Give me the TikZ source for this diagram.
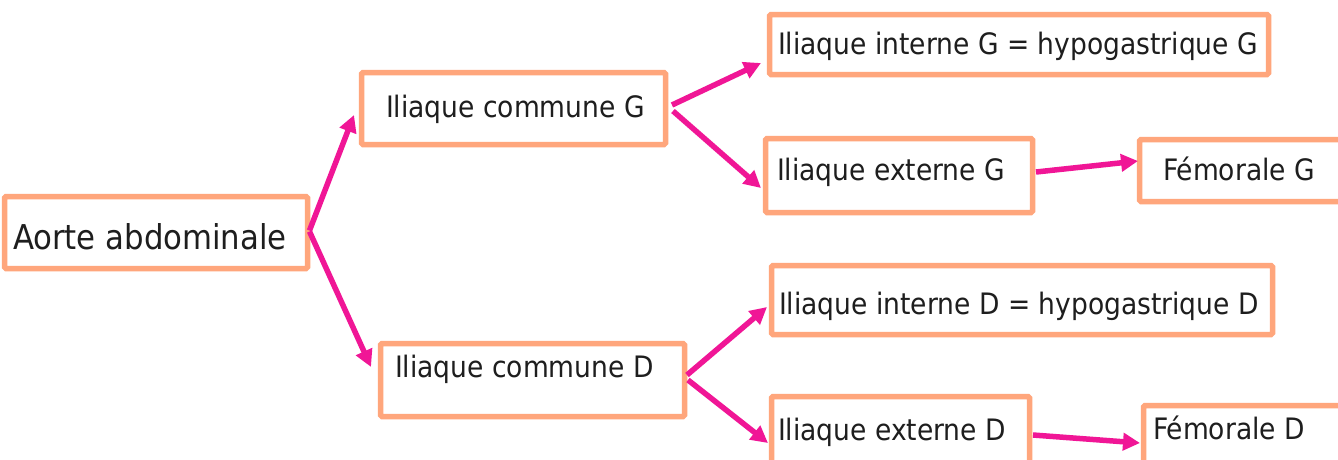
\documentclass[tikz,border=0pt]{standalone}
\usepackage{fontspec}
\setmainfont{DejaVu Sans Condensed}
\usetikzlibrary{arrows.meta}
\definecolor{boxc}{RGB}{255,166,124}
\definecolor{arrc}{RGB}{240,22,150}
\definecolor{txtc}{RGB}{30,30,30}
\tikzset{
  box/.style={draw=boxc, line width=5.5pt, rounded corners=1.5pt, rectangle, inner sep=0pt, outer sep=0pt, anchor=north west},
  lbl/.style={inner sep=0pt, outer sep=0pt, anchor=base west, text=txtc, font=\fontsize{29.5}{34}\selectfont},
  biglbl/.style={lbl, font=\fontsize{34.2}{40}\selectfont},
  conn/.style={draw=arrc, line width=5.5pt, -{Triangle[length=17pt,width=17pt]}}
}
\begin{document}
\begin{tikzpicture}[x=1pt,y=-1pt]
\fill[white] (0,0) rectangle (1338,459);
\useasboundingbox (0,0) rectangle (1338,459);
\begin{scope}
\clip (0,0) rectangle (1338,459);
% boxes
\node[box, minimum width=303pt, minimum height=72pt] (A) at (4.5,196.5) {};
\node[box, minimum width=304pt, minimum height=72pt] (B) at (361.5,72.5) {};
\node[box, minimum width=499pt, minimum height=60pt] (C) at (769.5,14.5) {};
\node[box, minimum width=267pt, minimum height=74pt] (D) at (765.5,138.5) {};
\node[box, minimum width=210pt, minimum height=62pt] (E) at (1139.5,139.5) {};
\node[box, minimum width=304pt, minimum height=73pt] (F) at (380.5,343.5) {};
\node[box, minimum width=501pt, minimum height=69pt] (G) at (771.5,265.5) {};
\node[box, minimum width=258pt, minimum height=90pt] (H) at (771.5,396.5) {};
\node[box, minimum width=210pt, minimum height=90pt] (I) at (1143.5,405.5) {};
% labels
\node[biglbl] (At) at (13,249) {Aorte abdominale};
\node[lbl] (Bt) at (386,117) {Iliaque commune G};
\node[lbl] (Ct) at (778,54) {Iliaque interne G = hypogastrique G};
\node[lbl] (Dt) at (777,180) {Iliaque externe G};
\node[lbl] (Et) at (1163,180) {Fémorale G};
\node[lbl] (Ft) at (395,377) {Iliaque commune D};
\node[lbl] (Gt) at (779,314) {Iliaque interne D = hypogastrique D};
\node[lbl] (Ht) at (778,440) {Iliaque externe D};
\node[lbl] (It) at (1153,439) {Fémorale D};
% connectors
\draw[conn] ([shift={(2,-2)}]A.east) -- ([shift={(-7.5,6.5)}]B.west);
\draw[conn] ([shift={(2,-1)}]A.east) -- ([shift={(-9.5,-13)}]F.west);
\draw[conn] ([shift={(6.5,-3.5)}]B.east) -- ([shift={(-8.5,18.5)}]C.west);
\draw[conn] ([shift={(7.5,2.5)}]B.east) -- ([shift={(-4.5,12.5)}]D.west);
\draw[conn] ([shift={(3.5,-3.5)}]D.east) -- ([shift={(-1.5,-9.5)}]E.west);
\draw[conn] ([shift={(2.5,-5)}]F.east) -- ([shift={(-4.5,7)}]G.west);
\draw[conn] ([shift={(3.5,0)}]F.east) -- ([shift={(-3.5,46.5)}]H.north west);
\draw[conn] ([shift={(3.5,38.5)}]H.north east) -- ([shift={(-3.5,37.5)}]I.north west);
\end{scope}
\end{tikzpicture}
\end{document}
